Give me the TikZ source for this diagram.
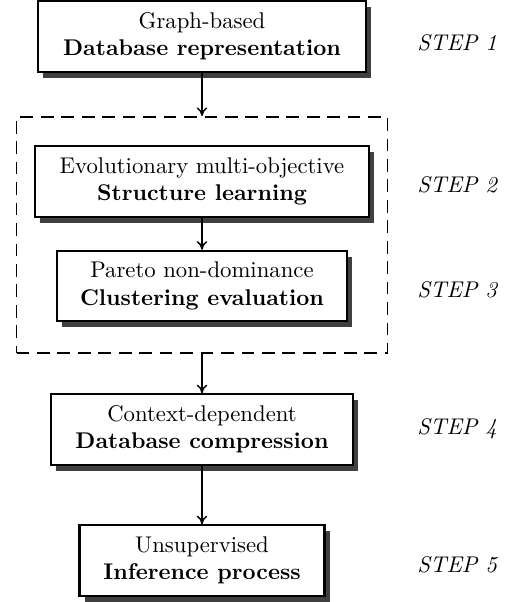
\documentclass[tikz,border=0pt]{standalone}
\usetikzlibrary{arrows.meta,shadows}

\begin{document}
\begin{tikzpicture}[
  x=0.44pt, y=-0.44pt,
  stagebox/.style={draw, line width=0.9pt, fill=white, align=center,
    inner sep=0pt, minimum height=31pt,
    drop shadow={shadow xshift=2.2pt, shadow yshift=-2.6pt,
                 fill=black!75, opacity=1}},
  groupbox/.style={draw, line width=0.8pt, dash pattern=on 5.6pt off 3.4pt,
    inner sep=0pt},
  steplabel/.style={anchor=base west, inner sep=0pt, font=\itshape},
  flow/.style={line width=0.65pt, -{To[length=3.8pt,width=4.6pt]}}
]
\useasboundingbox (0,0) rectangle (507,602);

% dashed frame around steps 2 and 3
\node[groupbox, minimum width=371*0.44pt, minimum height=236*0.44pt]
  (grp) at (202,235) {};

% processing stages
\node[stagebox, minimum width=328*0.44pt] (s1) at (202,36.5)
  {Graph-based\\\textbf{Database representation}};
\node[stagebox, minimum width=334*0.44pt] (s2) at (202,181.5)
  {Evolutionary multi-objective\\\textbf{Structure learning}};
\node[stagebox, minimum width=290*0.44pt] (s3) at (202,286)
  {Pareto non-dominance\\\textbf{Clustering evaluation}};
\node[stagebox, minimum width=302*0.44pt] (s4) at (202,429.5)
  {Context-dependent\\\textbf{Database compression}};
\node[stagebox, minimum width=245*0.44pt] (s5) at (202,560.5)
  {Unsupervised\\\textbf{Inference process}};

% step labels
\node[steplabel] (l1) at (417,51)  {STEP 1};
\node[steplabel] (l2) at (417,193) {STEP 2};
\node[steplabel] (l3) at (417,297) {STEP 3};
\node[steplabel] (l4) at (417,434) {STEP 4};
\node[steplabel] (l5) at (417,572) {STEP 5};

% connectors
\draw[flow] (s1.south) -- (s1.south |- grp.north);
\draw[flow] (s2.south) -- (s3.north);
\draw[flow] (grp.south) -- (grp.south |- s4.north);
\draw[flow] (s4.south) -- (s5.north);
\end{tikzpicture}
\end{document}
